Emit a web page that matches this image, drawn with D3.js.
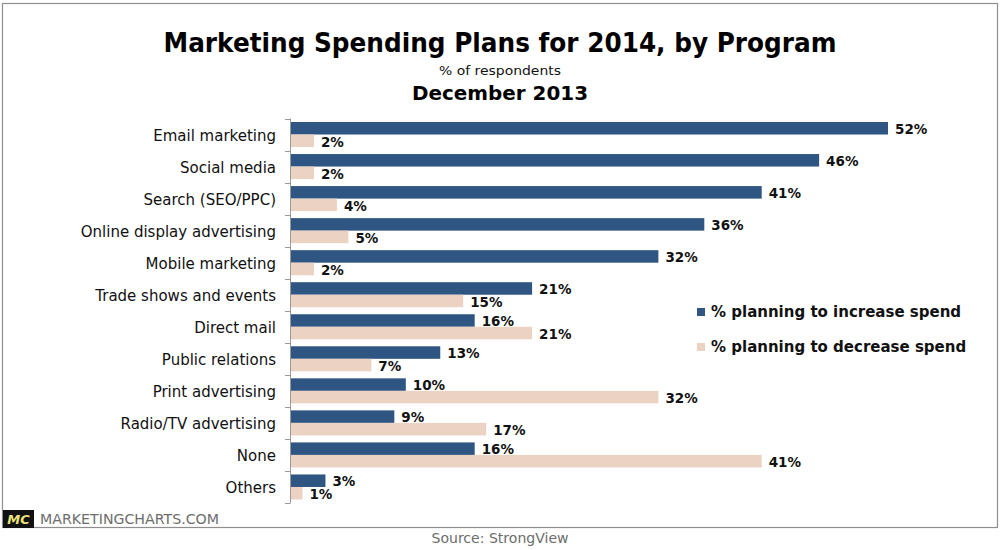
<!DOCTYPE html>
<html>
<head>
<meta charset="utf-8">
<script src="https://cdn.jsdelivr.net/npm/d3@7"></script>
<style>
  html, body { margin: 0; padding: 0; background: #fff; }
  svg { display: block; }
</style>
</head>
<body>
<svg id="chart" width="1000" height="550"></svg>
<script>
const categories = [
  "Email marketing", "Social media", "Search (SEO/PPC)", "Online display advertising",
  "Mobile marketing", "Trade shows and events", "Direct mail", "Public relations",
  "Print advertising", "Radio/TV advertising", "None", "Others"
];
const increaseSpend = [52, 46, 41, 36, 32, 21, 16, 13, 10, 9, 16, 3];
const decreaseSpend = [2, 2, 4, 5, 2, 15, 21, 7, 32, 17, 41, 1];
const seriesNames = ["% planning to increase spend", "% planning to decrease spend"];
const colors = ["#2f5583", "#ecd2c3"];

const svg = d3.select("#chart");
const font = "'DejaVu Sans', Verdana, sans-serif";

// frame
svg.append("rect").attr("x", 2.5).attr("y", 3.5).attr("width", 995).attr("height", 524)
  .attr("fill", "none").attr("stroke", "#8e8e8e").attr("stroke-width", 1.2);

// titles
svg.append("text").attr("x", 500).attr("y", 52).attr("text-anchor", "middle")
  .attr("font-family", font).attr("font-weight", "bold").attr("font-size", 26)
  .attr("textLength", 673).attr("lengthAdjust", "spacingAndGlyphs")
  .text("Marketing Spending Plans for 2014, by Program");
svg.append("text").attr("x", 500).attr("y", 75).attr("text-anchor", "middle")
  .attr("font-family", font).attr("font-size", 13).attr("fill", "#111")
  .attr("textLength", 122).attr("lengthAdjust", "spacingAndGlyphs")
  .text("% of respondents");
svg.append("text").attr("x", 500).attr("y", 100).attr("text-anchor", "middle")
  .attr("font-family", font).attr("font-weight", "bold").attr("font-size", 20)
  .attr("textLength", 176).attr("lengthAdjust", "spacingAndGlyphs")
  .text("December 2013");

// scales
const x = d3.scaleLinear().domain([0, 52]).range([291, 888]);
const y = d3.scaleBand().domain(categories).range([118.5, 503]).paddingInner(0).paddingOuter(0);
const inner = d3.scaleBand().domain([0, 1]).range([3.5, y.bandwidth() - 3.5]);

// axis
const axis = d3.axisLeft(y).tickSize(0).tickFormat("");
const axisG = svg.append("g").attr("transform", "translate(290.5,0)").call(axis);
axisG.select(".domain").attr("stroke", "#999").attr("d", `M0,${118.5}V${503}`);
// tick marks at band boundaries
const bounds = categories.map((c) => y(c)).concat([y.range()[1]]);
svg.append("g").selectAll("line").data(bounds).join("line")
  .attr("x1", 285).attr("x2", 290.5)
  .attr("y1", (d) => Math.round(d) + 0.5).attr("y2", (d) => Math.round(d) + 0.5)
  .attr("stroke", "#999");

// category labels
svg.append("g").selectAll("text").data(categories).join("text")
  .attr("x", 276).attr("y", (d) => y(d) + y.bandwidth() / 2 + 1)
  .attr("dy", "0.35em").attr("text-anchor", "end")
  .attr("font-family", font).attr("font-size", 15).attr("fill", "#111")
  .text((d) => d);

// bars
const series = [increaseSpend, decreaseSpend];
series.forEach((vals, si) => {
  const g = svg.append("g");
  g.selectAll("rect").data(vals).join("rect")
    .attr("x", x(0))
    .attr("y", (d, i) => y(categories[i]) + inner(si))
    .attr("width", (d) => x(d) - x(0))
    .attr("height", inner.bandwidth())
    .attr("fill", colors[si]);
  g.selectAll("text").data(vals).join("text")
    .attr("x", (d) => x(d) + 7)
    .attr("y", (d, i) => y(categories[i]) + inner(si) + inner.bandwidth() - 0.5)
    .attr("font-family", font).attr("font-weight", "bold").attr("font-size", 13.5)
    .attr("fill", "#111")
    .text((d) => d + "%");
});

// legend
const legend = svg.append("g");
seriesNames.forEach((name, i) => {
  const ly = 312 + i * 35;
  legend.append("rect").attr("x", 697).attr("y", ly - 4).attr("width", 8).attr("height", 8)
    .attr("fill", colors[i]);
  legend.append("text").attr("x", 711).attr("y", ly).attr("dy", "0.35em")
    .attr("font-family", font).attr("font-weight", "bold").attr("font-size", 15)
    .attr("fill", "#111")
    .text(name);
});

// footer
svg.append("rect").attr("x", 3).attr("y", 510).attr("width", 31).attr("height", 18).attr("fill", "#111");
svg.append("text").attr("x", 18.5).attr("y", 524).attr("text-anchor", "middle")
  .attr("font-family", font).attr("font-weight", "bold").attr("font-style", "italic")
  .attr("font-size", 13).attr("fill", "#ebe27a").text("MC");
svg.append("text").attr("x", 40).attr("y", 524)
  .attr("font-family", font).attr("font-size", 14).attr("fill", "#6d6d6d")
  .attr("textLength", 179).attr("lengthAdjust", "spacingAndGlyphs")
  .text("MARKETINGCHARTS.COM");
svg.append("text").attr("x", 500).attr("y", 543).attr("text-anchor", "middle")
  .attr("font-family", font).attr("font-size", 14).attr("fill", "#6d6d6d")
  .attr("textLength", 137).attr("lengthAdjust", "spacingAndGlyphs")
  .text("Source: StrongView");
</script>
</body>
</html>
